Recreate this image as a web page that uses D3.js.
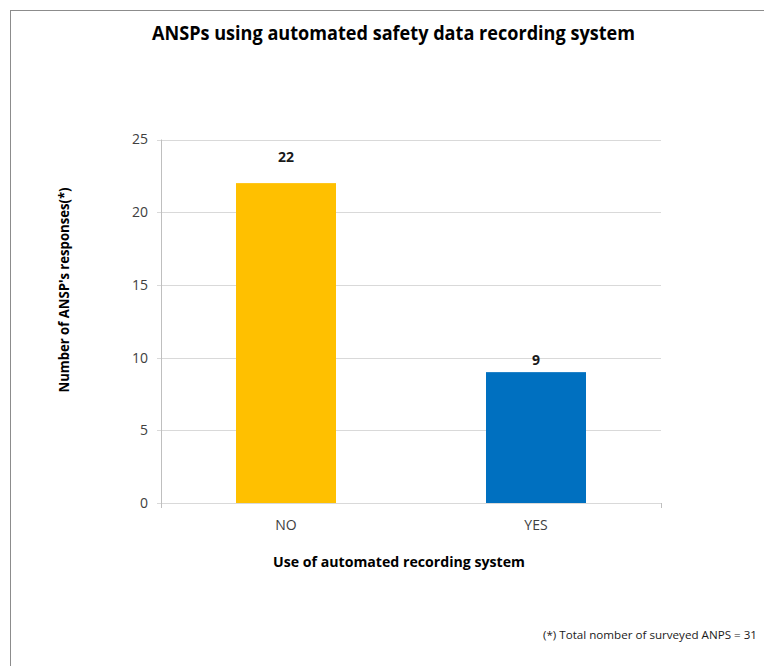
<!DOCTYPE html>
<html>
<head>
<meta charset="utf-8">
<script src="https://cdn.jsdelivr.net/npm/d3@7/dist/d3.min.js"></script>
<style>
  html, body { margin: 0; padding: 0; background: #fff; }
  svg { display: block; font-family: "Open Sans", "Liberation Sans", sans-serif; }
</style>
</head>
<body>
<svg id="chart" width="764" height="666"></svg>
<script>
const categories = ["NO", "YES"];
const values = [22, 9];
const colors = ["#FFC000", "#0070C0"];
const yTicks = [0, 5, 10, 15, 20, 25];
const titleText = "ANSPs using automated safety data recording system";
const xTitle = "Use of automated recording system";
const yTitle = "Number of ANSP's responses(*)";
const footnote = "(*) Total nomber of surveyed ANPS = 31";

const svg = d3.select("#chart");

// outer border
svg.append("rect")
  .attr("x", 10.5).attr("y", 10.5)
  .attr("width", 800).attr("height", 700)
  .attr("fill", "#fff").attr("stroke", "#8c8c8c").attr("stroke-width", 1);

const x = d3.scaleBand().domain(categories).range([161, 661]).paddingInner(0).paddingOuter(0);
const y = d3.scaleLinear().domain([0, 25]).range([503, 139.5]);

// gridlines
svg.append("g").selectAll("line").data(yTicks).join("line")
  .attr("x1", 157).attr("x2", 661)
  .attr("y1", d => Math.round(y(d)) + 0.5).attr("y2", d => Math.round(y(d)) + 0.5)
  .attr("stroke", "#d9d9d9").attr("stroke-width", 1);

// y axis line
svg.append("line").attr("x1", 161.5).attr("x2", 161.5)
  .attr("y1", y(25)).attr("y2", y(0) + 5)
  .attr("stroke", "#bfbfbf");

// x axis line & edge ticks
svg.append("line").attr("x1", 161).attr("x2", 661)
  .attr("y1", Math.round(y(0)) + 0.5).attr("y2", Math.round(y(0)) + 0.5)
  .attr("stroke", "#d9d9d9");
const xEdges = x.range();
svg.append("g").selectAll("line").data(xEdges).join("line")
  .attr("x1", d => d + 0.5).attr("x2", d => d + 0.5)
  .attr("y1", y(0)).attr("y2", y(0) + 5)
  .attr("stroke", "#bfbfbf");

// y tick labels
svg.append("g").selectAll("text").data(yTicks).join("text")
  .attr("x", 148).attr("y", d => y(d))
  .attr("dy", "0.35em")
  .attr("text-anchor", "end")
  .attr("font-size", 14).attr("fill", "#404040")
  .text(d => d);

// bars
const barW = 100;
svg.append("g").selectAll("rect").data(values).join("rect")
  .attr("x", (d, i) => x(categories[i]) + x.bandwidth() / 2 - barW / 2)
  .attr("y", d => y(d))
  .attr("width", barW)
  .attr("height", d => y(0) - y(d))
  .attr("fill", (d, i) => colors[i]);

// value labels (Excel placed them at differing gaps above the bars)
const labelGap = [21, 7.5];
svg.append("g").selectAll("text").data(values).join("text")
  .attr("x", (d, i) => x(categories[i]) + x.bandwidth() / 2)
  .attr("y", (d, i) => y(d) - labelGap[i])
  .attr("text-anchor", "middle")
  .attr("font-size", 14).attr("font-weight", "bold").attr("fill", "#1a1a1a")
  .text(d => d);

// category labels
svg.append("g").selectAll("text").data(categories).join("text")
  .attr("x", d => x(d) + x.bandwidth() / 2)
  .attr("y", 530)
  .attr("text-anchor", "middle")
  .attr("font-size", 14).attr("fill", "#404040")
  .text(d => d);

// title
svg.append("text")
  .attr("x", 393.5).attr("y", 40)
  .attr("text-anchor", "middle")
  .attr("font-size", 19).attr("font-weight", "bold").attr("fill", "#000")
  .attr("textLength", 483).attr("lengthAdjust", "spacingAndGlyphs")
  .text(titleText);

// x axis title
svg.append("text")
  .attr("x", 399).attr("y", 567)
  .attr("text-anchor", "middle")
  .attr("font-size", 14.5).attr("font-weight", "bold").attr("fill", "#000")
  .attr("textLength", 252).attr("lengthAdjust", "spacingAndGlyphs")
  .text(xTitle);

// y axis title
svg.append("text")
  .attr("transform", "translate(69,290) rotate(-90)")
  .attr("text-anchor", "middle")
  .attr("font-size", 14.5).attr("font-weight", "bold").attr("fill", "#000")
  .attr("textLength", 205).attr("lengthAdjust", "spacingAndGlyphs")
  .text(yTitle);

// footnote
svg.append("text")
  .attr("x", 543).attr("y", 639)
  .attr("text-anchor", "start")
  .attr("font-size", 11.5).attr("fill", "#1a1a1a")
  .attr("textLength", 214).attr("lengthAdjust", "spacingAndGlyphs")
  .text(footnote);
</script>
</body>
</html>
